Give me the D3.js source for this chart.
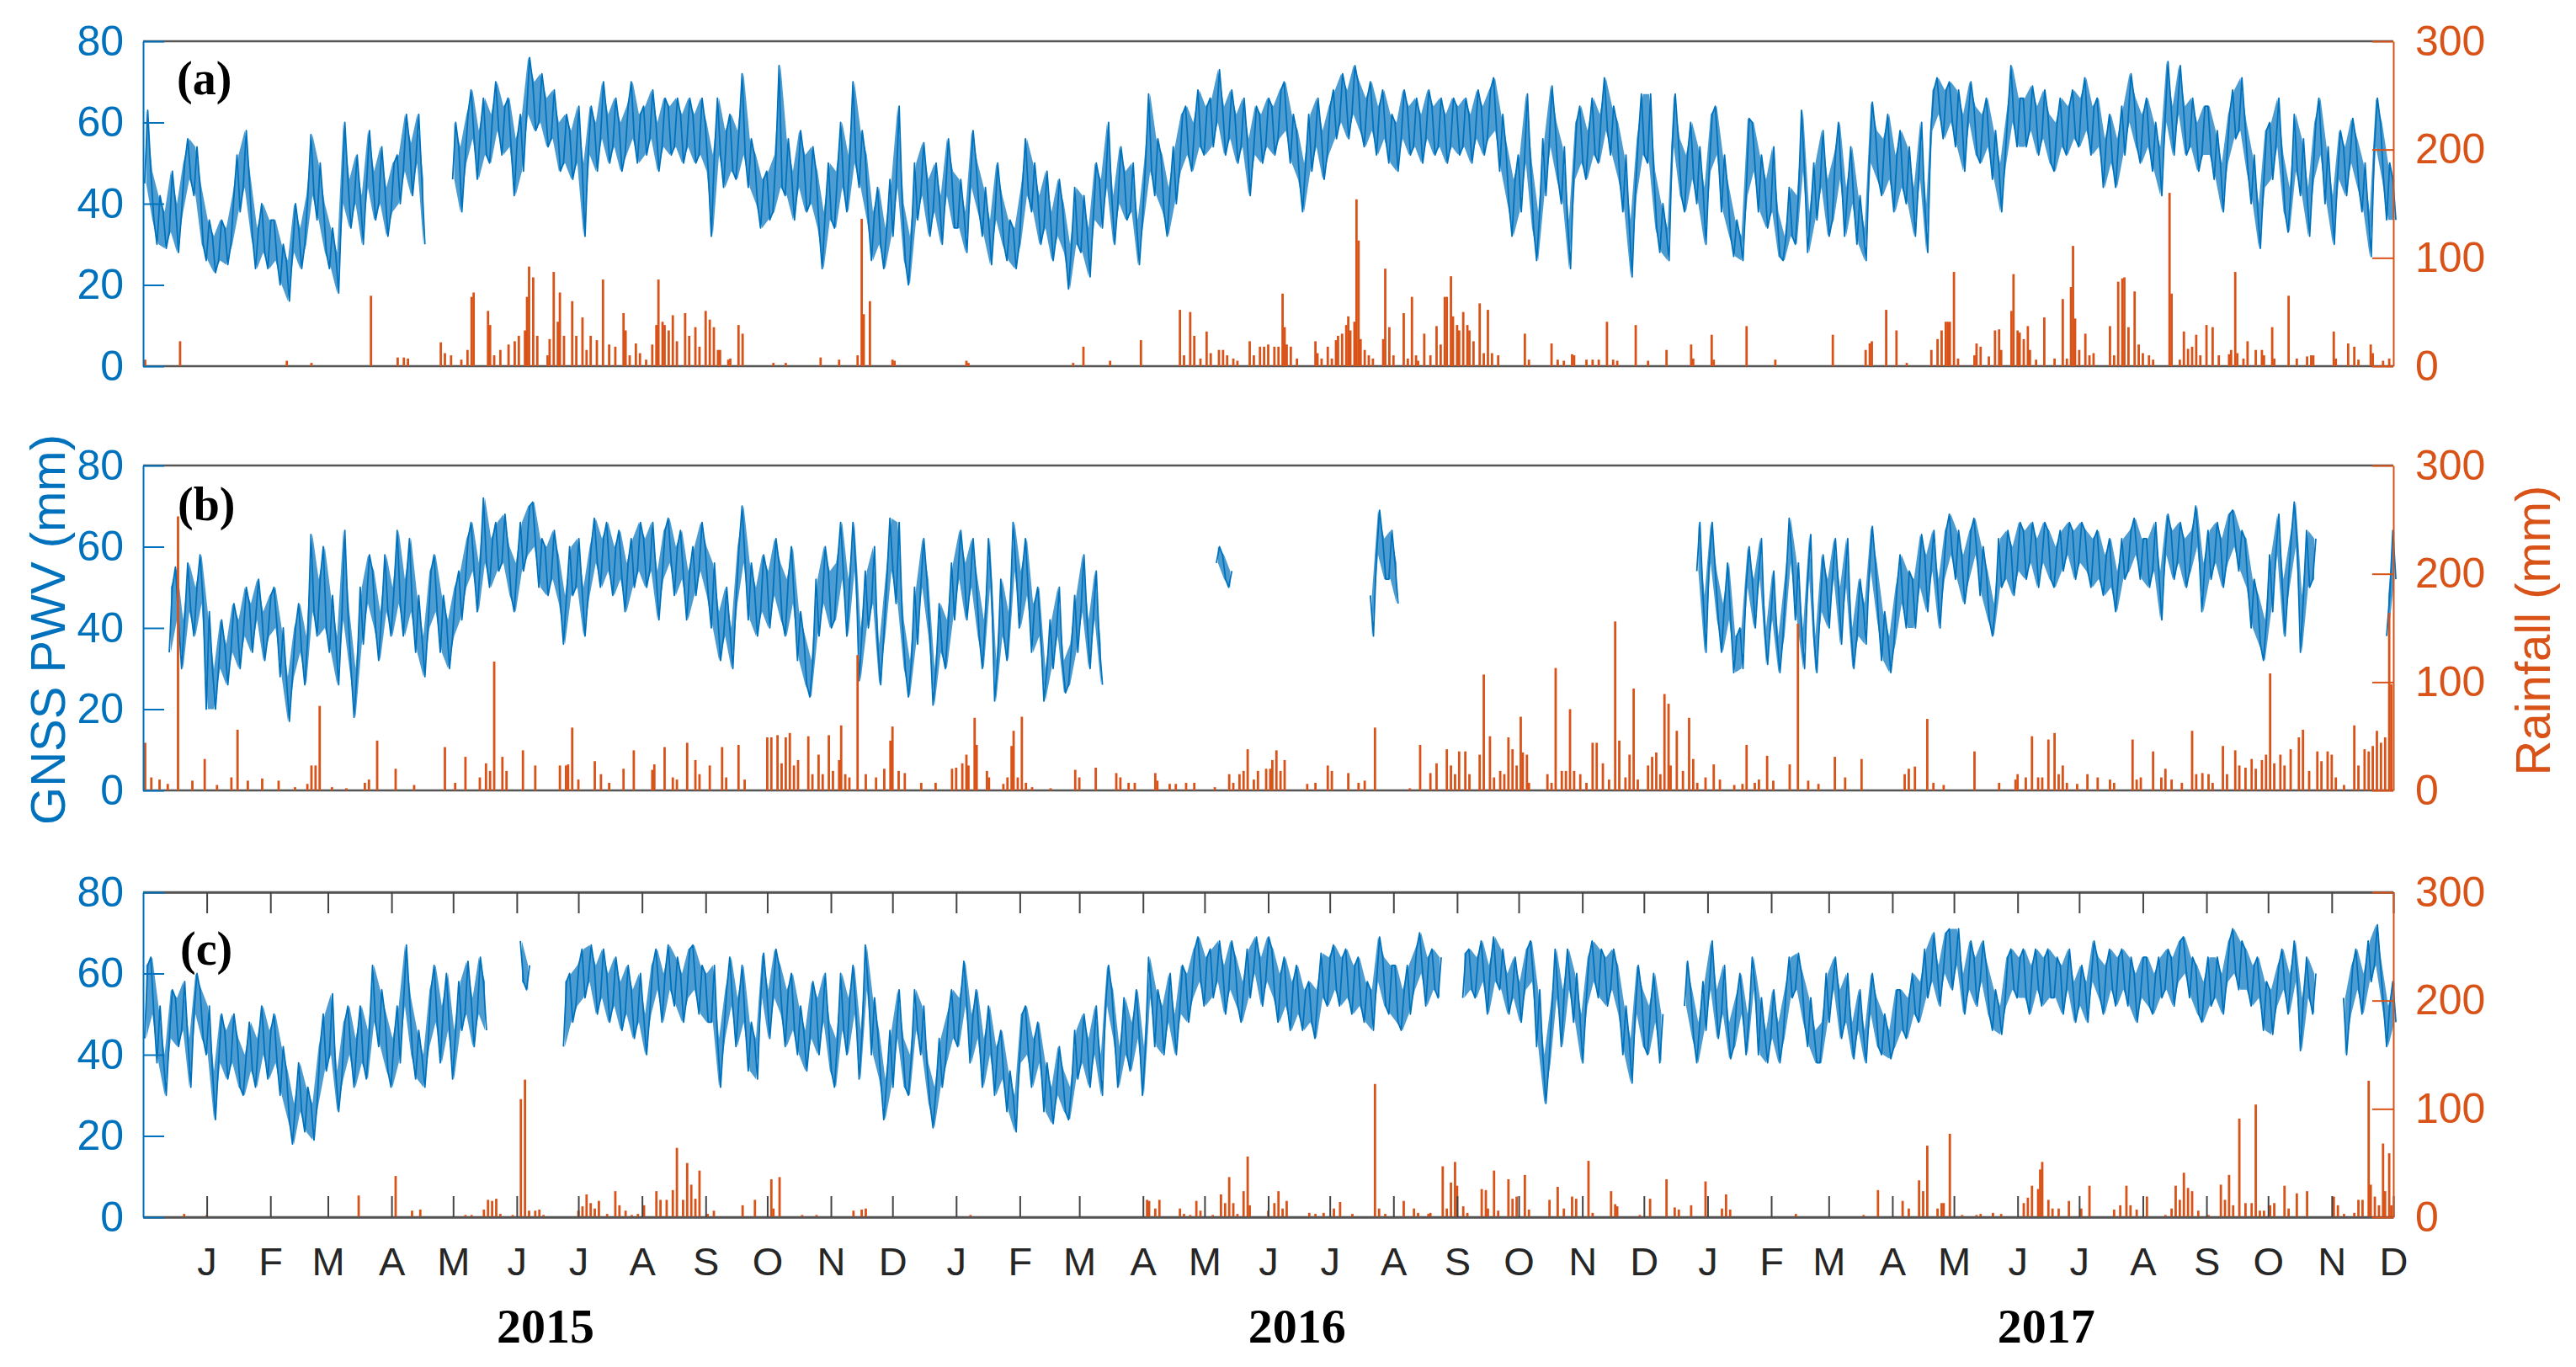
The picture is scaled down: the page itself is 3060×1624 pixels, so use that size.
<!DOCTYPE html>
<html>
<head>
<meta charset="utf-8">
<script src="https://cdn.jsdelivr.net/npm/d3@7"></script>
<style>
  html, body { margin: 0; padding: 0; background: #fff; }
  svg { display: block; }
</style>
</head>
<body>
<svg id="chart" width="3060" height="1624"></svg>
<script>
// GNSS PWV (left axis) and daily rainfall (right axis), three stations

// Time axis: day 0 = 1 Dec 2014, last day 1 Dec 2017
const startDay = Date.UTC(2014, 11, 1);
const endDay = Date.UTC(2017, 11, 1);
const pwvStep = 3;

// Tick labels
const pwvTicks = [0, 20, 40, 60, 80];
const rainTicks = [0, 100, 200, 300];
const monthLabels = ['J', 'F', 'M', 'A', 'M', 'J', 'J', 'A', 'S', 'O', 'N', 'D',
                     'J', 'F', 'M', 'A', 'M', 'J', 'J', 'A', 'S', 'O', 'N', 'D',
                     'J', 'F', 'M', 'A', 'M', 'J', 'J', 'A', 'S', 'O', 'N', 'D'];
const yearLabels = ['2015', '2016', '2017'];
const panelLabels = ['(a)', '(b)', '(c)'];

// PWV (mm), [min, max] per 3-day window, one row per month
const pwvA = [
  [45,63],[36,48],[30,42],[29,38],[33,48],[28,40],[38,50],[46,56],[42,54],[30,44],[26,36], // Dec 14
  [23,32],[26,36],[25,34],[30,42],[38,52],[44,58],[32,46],[24,34],[28,40],[24,36],          // Jan 15
  [26,36],[20,30],[16,26],[28,40],[24,34],[30,42],[42,57],[36,50],[28,40],                  // Feb
  [24,34],[18,28],[40,60],[34,46],[40,52],[30,42],[44,58],[36,48],[40,54],[32,44],[38,50], // Mar
  [40,52],[48,62],[42,55],[50,62],[30,46],null,null,null,null,[46,60],                     // Apr
  [38,54],[50,62],[56,68],[46,58],[52,66],[50,62],[58,70],[52,64],[54,66],[42,56],          // May
  [48,62],[62,76],[58,70],[60,72],[54,66],[56,68],[48,60],[50,62],[46,58],[50,64],          // Jun
  [32,50],[52,64],[48,60],[56,70],[50,62],[54,66],[48,60],[52,64],[56,70],[50,62],          // Jul
  [52,64],[56,68],[48,60],[54,66],[52,64],[54,66],[50,62],[54,66],[50,62],[52,66],[48,60], // Aug
  [32,52],[52,66],[44,58],[48,62],[46,58],[52,72],[44,56],[40,52],[34,46],[36,48],          // Sep
  [38,52],[44,74],[42,56],[36,48],[44,58],[38,52],[40,54],[34,48],[24,38],[36,50],          // Oct
  [34,48],[44,60],[38,52],[50,70],[44,58],[36,52],[26,38],[30,44],[24,34],[32,46],          // Nov
  [44,64],[26,40],[20,32],[36,50],[42,55],[32,46],[38,50],[30,42],[42,56],[34,48],          // Dec 15
  [34,46],[28,38],[44,58],[38,50],[32,44],[25,36],[36,50],[30,42],[26,36],[24,34],[30,44], // Jan 16
  [42,56],[38,50],[30,42],[34,48],[26,38],[32,46],[28,40],[19,30],[30,44],                  // Feb
  [28,42],[22,34],[36,50],[34,46],[44,60],[30,42],[40,54],[36,48],[38,50],[25,36],[36,50], // Mar
  [48,67],[42,56],[38,52],[32,44],[40,54],[48,62],[52,64],[48,60],[54,68],[52,64],          // Apr
  [54,66],[60,73],[52,64],[56,68],[50,62],[54,66],[42,56],[52,64],[50,62],[54,66],          // May
  [52,64],[56,68],[58,70],[50,62],[46,58],[38,50],[48,62],[54,66],[46,58],[52,64],          // Jun
  [56,68],[60,72],[56,68],[62,74],[58,70],[54,66],[58,70],[52,64],[56,68],[50,62],          // Jul
  [48,60],[56,68],[52,64],[54,66],[50,62],[56,68],[52,64],[54,66],[50,62],[54,66],[52,64], // Aug
  [54,66],[50,62],[56,68],[52,64],[56,68],[58,71],[48,62],[40,54],[32,46],[38,52],          // Sep
  [50,67],[34,50],[26,38],[42,56],[54,69],[46,60],[40,54],[24,36],[46,60],[50,64],          // Oct
  [46,58],[52,66],[50,62],[58,71],[52,64],[46,60],[38,52],[22,36],[42,56],[52,67],          // Nov
  [50,67],[34,48],[28,40],[26,34],[54,67],[42,56],[38,52],[46,60],[40,54],[30,44],          // Dec 16
  [48,62],[52,64],[38,52],[32,44],[27,36],[26,32],[42,61],[48,60],[38,52],[34,46],[38,54], // Jan 17
  [27,38],[26,32],[32,44],[30,42],[48,63],[28,38],[36,50],[44,58],[32,46],                  // Feb
  [36,52],[46,60],[32,44],[40,54],[30,42],[26,34],[50,65],[46,58],[42,56],[46,62],          // Mar
  [38,52],[44,58],[40,54],[32,44],[46,60],[28,40],[58,68],[62,71],[56,68],[60,70],          // Apr
  [54,68],[48,62],[60,70],[52,64],[50,62],[54,66],[46,58],[38,50],[50,62],[60,74],[54,66], // May
  [54,66],[58,69],[52,64],[56,68],[50,62],[48,60],[54,66],[52,64],[56,68],[54,66],          // Jun
  [58,71],[52,64],[54,66],[44,56],[50,62],[44,56],[52,64],[60,72],[54,66],[50,62],          // Jul
  [54,66],[48,60],[42,54],[60,75],[52,64],[62,74],[52,64],[54,66],[48,60],[52,64],          // Aug
  [52,64],[46,58],[38,50],[50,62],[56,68],[58,71],[48,60],[40,52],[29,40],[44,58],          // Sep
  [46,60],[54,66],[38,52],[33,44],[48,62],[42,56],[32,44],[46,60],[52,66],[40,54],[30,42], // Oct
  [46,58],[42,54],[50,61],[44,56],[38,50],[27,38],[54,66],[46,60],[36,50],[36,46]           // Nov
];

const pwvB = [
  null,null,null,null,[34,50],[42,55],[30,42],[44,56],[38,50],[46,58],[20,44],             // Dec 14
  [20,30],[30,42],[26,36],[34,46],[30,42],[38,50],[34,46],[42,52],[32,44],[38,48],          // Jan 15
  [40,50],[28,40],[17,28],[28,40],[34,46],[26,38],[44,63],[38,52],[40,60],                  // Feb
  [34,48],[26,38],[42,64],[30,44],[18,30],[36,50],[46,58],[40,54],[32,44],[44,58],[38,50], // Mar
  [46,64],[38,52],[44,62],[34,48],[28,38],[40,54],[44,58],[34,48],[30,42],[38,50],          // Apr
  [42,54],[50,62],[54,66],[44,56],[56,72],[50,62],[54,66],[56,68],[48,60],[44,56],          // May
  [54,66],[58,70],[60,71],[50,62],[48,60],[52,64],[46,58],[36,48],[48,60],[50,62],          // Jun
  [38,50],[48,60],[56,67],[50,62],[54,66],[48,60],[52,64],[44,56],[50,62],[54,66],          // Jul
  [50,62],[54,66],[42,54],[52,64],[56,67],[48,60],[52,64],[42,54],[48,60],[54,66],[48,60], // Aug
  [40,56],[32,44],[38,50],[30,40],[46,60],[56,70],[42,56],[38,50],[44,58],[40,54],          // Sep
  [48,62],[42,56],[38,52],[46,60],[32,44],[26,38],[23,32],[38,52],[46,60],[40,54],          // Oct
  [42,56],[52,66],[38,52],[54,66],[27,40],[40,54],[46,60],[26,36],[38,52],[54,67],          // Nov
  [46,66],[30,42],[23,32],[36,50],[50,62],[38,52],[21,30],[34,46],[30,42],[42,56],          // Dec 15
  [52,64],[42,56],[50,62],[38,52],[30,42],[50,62],[22,32],[38,52],[32,44],[54,66],[40,54], // Jan 16
  [48,62],[34,46],[38,50],[22,30],[30,42],[38,50],[24,32],[26,36],[34,48],                  // Feb
  [44,58],[30,42],[42,54],[26,36],null,null,null,null,null,null,null,                       // Mar
  null,null,null,null,null,null,null,null,null,null,                                        // Apr
  null,[56,60],[52,58],[50,54],null,null,null,null,null,null,                               // May
  null,null,null,null,null,null,null,null,null,null,                                        // Jun
  null,null,null,null,null,null,[38,48],[58,69],[52,62],[52,64],                            // Jul
  [46,56],null,null,null,null,null,null,null,null,null,null,                                // Aug
  null,null,null,null,null,null,null,null,null,null,                                        // Sep
  null,null,null,null,null,null,null,null,null,null,                                        // Oct
  null,null,null,null,null,null,null,null,null,null,                                        // Nov
  null,null,null,null,null,null,null,null,[54,66],[34,48],                                  // Dec 16
  [56,66],[42,54],[34,46],[42,56],[29,38],[30,40],[50,60],[40,52],[52,62],[31,40],[42,54], // Jan 17
  [29,38],[38,52],[56,67],[42,56],[30,40],[52,63],[29,38],[44,58],[40,52],                  // Feb
  [52,62],[36,50],[50,62],[30,40],[38,52],[36,46],[54,65],[42,56],[32,44],[29,38],          // Mar
  [36,50],[46,58],[40,54],[40,52],[50,63],[44,58],[54,64],[40,52],[52,64],[58,68],          // Apr
  [52,64],[46,58],[52,64],[58,67],[48,60],[42,54],[38,46],[50,62],[52,64],[48,60],[54,66], // May
  [52,64],[56,66],[50,62],[56,66],[52,64],[50,60],[54,64],[58,66],[52,64],[56,66],          // Jun
  [54,64],[50,62],[52,64],[48,58],[50,62],[44,54],[52,62],[54,64],[58,67],[52,62],          // Jul
  [50,62],[54,66],[42,54],[58,68],[52,64],[56,66],[50,62],[54,64],[60,70],[44,56],          // Aug
  [52,64],[56,66],[50,62],[56,68],[60,69],[54,64],[50,62],[40,52],[36,48],[32,42],          // Sep
  [44,58],[58,68],[38,52],[50,62],[60,71],[34,48],[50,64],[52,62],null,null,null,           // Oct
  null,null,null,null,null,null,null,null,[38,48],[52,64]                                   // Nov
];

const pwvC = [
  [44,62],[50,64],[38,52],[30,40],[44,56],[42,54],[46,58],[32,44],[50,60],[44,56],[40,52], // Dec 14
  [24,36],[38,50],[34,46],[38,50],[32,44],[30,40],[36,48],[32,44],[40,52],[34,46],          // Jan 15
  [38,50],[30,42],[24,36],[18,28],[26,38],[21,32],[19,28],[28,42],[36,50],                  // Feb
  [40,55],[26,36],[34,48],[40,52],[32,44],[38,52],[34,46],[48,62],[42,56],[36,50],[32,44], // Mar
  [38,52],[52,67],[40,54],[34,46],[32,40],[42,56],[48,62],[38,52],[46,60],[34,46],          // Apr
  [46,58],[50,63],[42,54],[50,64],[46,58],null,null,null,null,null,                         // May
  [58,68],[56,62],null,null,null,null,null,[42,58],[48,60],[52,62],                         // Jun
  [54,66],[58,67],[50,62],[54,66],[48,60],[52,64],[46,58],[50,62],[44,56],[48,60],          // Jul
  [40,50],[50,62],[56,66],[48,60],[56,67],[52,64],[48,60],[54,66],[56,67],[50,62],[48,60], // Aug
  [48,62],[32,44],[44,56],[52,64],[42,54],[48,62],[36,48],[34,44],[54,65],[44,56],          // Sep
  [54,66],[50,62],[42,56],[46,60],[40,52],[36,46],[44,58],[40,54],[48,60],[36,48],          // Oct
  [32,44],[46,60],[40,54],[50,62],[34,46],[56,67],[40,54],[34,46],[24,34],[32,46],          // Nov
  [44,56],[32,44],[30,40],[46,56],[40,52],[28,38],[22,32],[32,44],[38,50],[44,56],          // Dec 15
  [42,54],[52,63],[38,50],[44,56],[32,44],[40,52],[30,42],[34,46],[26,36],[21,30],[38,50], // Jan 16
  [40,52],[32,44],[38,48],[26,38],[23,32],[30,42],[26,36],[24,32],[34,46],                  // Feb
  [38,50],[32,44],[40,52],[30,40],[52,62],[44,56],[32,42],[40,54],[36,48],[44,56],[30,42], // Mar
  [54,64],[42,56],[40,52],[48,60],[40,50],[50,62],[48,60],[54,66],[58,69],[52,64],          // Apr
  [54,66],[58,68],[50,62],[56,68],[52,64],[48,58],[54,66],[60,69],[52,64],[58,69],          // May
  [54,66],[48,60],[52,64],[46,58],[50,62],[46,56],[48,58],[44,56],[54,65],[52,64],          // Jun
  [56,67],[52,64],[54,66],[50,62],[52,64],[48,58],[46,56],[58,69],[52,64],[50,62],          // Jul
  [48,62],[46,56],[50,62],[56,66],[60,70],[52,64],[56,66],[54,64],null,null,null,           // Aug
  [54,65],[56,66],[54,64],[58,68],[50,62],[58,69],[56,66],[50,60],[54,64],[48,58],          // Sep
  [56,66],[58,68],[42,56],[28,40],[38,52],[54,66],[42,56],[56,66],[48,60],[38,50],          // Oct
  [52,64],[58,68],[54,66],[52,64],[56,66],[50,62],[40,52],[33,44],[50,62],[42,56],          // Nov
  [40,52],[48,60],[38,50],null,null,null,[52,63],[44,56],[38,48],[46,58],                   // Dec 16
  [56,68],[44,56],[50,62],[39,48],[42,54],[50,60],[40,50],[56,64],[40,54],[38,46],[44,56], // Jan 17
  [38,48],[44,56],[54,64],[56,65],[48,60],[42,54],[38,46],[38,48],[48,60],                  // Feb
  [56,64],[44,56],[48,60],[39,48],[46,56],[38,46],[50,60],[42,54],[40,50],[39,46],          // Mar
  [42,56],[46,56],[44,54],[50,60],[48,58],[54,66],[58,70],[52,62],[60,70],[56,71],          // Apr
  [62,71],[50,60],[56,68],[52,64],[58,68],[50,62],[46,56],[45,52],[52,64],[56,66],[54,64], // May
  [54,66],[50,62],[56,66],[52,64],[54,66],[54,64],[50,62],[56,66],[48,58],[52,62],          // Jun
  [48,58],[58,68],[54,64],[50,62],[56,66],[52,64],[56,66],[52,64],[48,60],[54,64],          // Jul
  [52,64],[50,60],[54,64],[56,66],[52,64],[58,68],[60,69],[54,64],[50,62],[48,58],          // Aug
  [52,64],[54,64],[50,60],[58,68],[60,71],[56,68],[56,66],[52,62],[54,64],[46,58],          // Sep
  [45,56],[52,62],[56,66],[50,60],[58,68],[41,54],[54,64],[50,60],null,null,null,           // Oct
  null,[40,54],[50,62],[56,66],[50,60],[58,68],[62,72],[52,62],[42,52],[48,58]              // Nov
];

// Daily rainfall (mm): [day since 1 Dec 2014, amount]
const rainA = [
  [1,6],[18,23],[70,5],[82,3],[111,65],[124,8],[127,8],[129,7],[145,22],[147,12],[150,10],[155,6],
  [158,15],[160,64],[161,68],[168,51],[169,38],[171,10],[174,15],[178,20],[181,23],[183,28],[186,33],
  [187,64],[188,92],[190,82],[192,28],[197,10],[198,25],[200,87],[202,41],[203,68],[205,28],[209,60],
  [211,28],[214,45],[216,15],[218,28],[221,24],[224,80],[227,20],[230,18],[234,49],[235,33],[237,10],
  [240,21],[242,12],[245,6],[248,20],[250,38],[251,80],[253,41],[254,38],[256,33],[258,47],[260,23],
  [264,49],[266,28],[269,36],[271,18],[274,51],[276,43],[278,36],[280,15],[281,15],[285,6],[286,7],
  [290,38],[292,30],[307,3],[313,3],[330,8],[339,6],[348,10],[350,136],[351,48],[354,60],[365,6],
  [366,5],[401,5],[402,3],[453,3],[458,18],[471,5],[486,24],[505,52],[507,10],[510,50],[512,28],
  [515,7],[518,32],[520,12],[524,15],[526,15],[528,10],[531,7],[533,5],[539,23],[541,10],[544,18],
  [546,18],[548,20],[551,18],[553,18],[555,67],[556,36],[557,20],[559,18],[562,7],[571,23],[572,12],
  [574,7],[577,18],[579,7],[581,24],[582,28],[584,30],[586,38],[587,46],[588,33],[590,41],[591,154],
  [592,116],[593,25],[595,15],[597,10],[599,7],[604,25],[605,90],[607,36],[609,10],[614,49],[616,7],
  [618,64],[620,10],[621,5],[624,30],[627,10],[630,37],[632,20],[634,64],[635,64],[637,83],[638,46],
  [640,38],[641,33],[643,50],[645,38],[646,33],[648,23],[651,58],[653,12],[655,52],[657,12],[660,10],
  [673,30],[675,6],[686,21],[689,6],[692,5],[696,11],[697,10],[703,6],[706,6],[709,6],[713,41],
  [716,6],[718,5],[727,38],[733,5],[742,15],[754,20],[755,7],[764,29],[765,6],[781,37],[795,6],
  [823,29],[839,15],[841,21],[842,23],[849,52],[854,33],[859,3],[871,15],[874,25],[876,33],[878,41],
  [879,41],[880,41],[882,87],[884,7],[892,10],[893,21],[895,18],[899,9],[902,33],[904,34],[905,15],
  [910,51],[911,85],[913,33],[914,31],[916,25],[918,37],[919,15],[922,6],[926,45],[931,7],[935,62],
  [937,7],[939,73],[940,111],[941,44],[943,15],[946,30],[948,10],[950,12],[958,37],[960,10],[962,78],
  [964,81],[965,82],[967,36],[970,69],[972,20],[974,12],[977,10],[979,6],[987,160],[988,67],[992,6],
  [994,32],[996,16],[998,18],[1000,29],[1002,10],[1005,38],[1008,36],[1011,10],[1016,11],[1017,15],
  [1019,87],[1020,12],[1023,7],[1025,23],[1029,15],[1032,15],[1033,10],[1037,36],[1038,7],[1045,65],
  [1049,7],[1054,9],[1056,10],[1057,10],[1067,32],[1068,7],[1074,21],[1077,18],[1079,6],[1085,20],
  [1086,12],[1091,5],[1094,7]
];

const rainB = [
  [1,44],[4,12],[8,10],[12,6],[17,253],[24,9],[30,29],[36,5],[43,12],[46,56],[51,9],[58,11],[66,9],
  [74,3],[80,6],[82,23],[84,23],[86,78],[92,3],[99,2],[108,7],[110,10],[114,46],[123,20],[132,5],
  [147,40],[152,7],[157,31],[164,12],[167,25],[169,18],[171,119],[175,31],[177,18],[185,37],[191,23],
  [203,23],[206,23],[207,24],[209,58],[212,10],[220,27],[223,15],[227,7],[234,20],[239,37],[248,19],
  [249,24],[254,40],[258,12],[260,10],[265,44],[269,28],[271,15],[276,23],[282,40],[284,12],[290,42],
  [293,10],[304,49],[306,49],[309,51],[311,25],[313,49],[315,53],[317,23],[319,28],[324,50],[326,15],
  [329,33],[331,15],[334,51],[336,18],[339,28],[340,60],[342,15],[344,12],[348,125],[352,15],[357,12],
  [361,20],[364,46],[365,59],[368,18],[371,16],[379,7],[386,7],[394,20],[396,21],[399,25],[401,33],
  [402,23],[405,67],[406,42],[411,18],[412,12],[419,6],[421,12],[423,41],[424,55],[426,12],[428,68],
  [430,7],[433,3],[442,2],[454,19],[456,12],[464,21],[474,16],[476,12],[480,7],[483,7],[493,16],
  [494,9],[500,6],[503,6],[508,7],[512,7],[522,3],[529,15],[531,7],[534,15],[536,18],[538,38],[541,10],
  [543,18],[547,20],[549,20],[550,28],[552,37],[554,18],[556,28],[567,6],[571,7],[577,23],[579,18],
  [587,16],[592,7],[595,9],[600,58],[617,2],[622,42],[627,16],[630,25],[635,38],[637,23],[639,15],
  [641,36],[644,36],[646,15],[651,33],[653,107],[656,50],[658,12],[661,18],[663,15],[665,49],[667,38],
  [669,23],[671,68],[672,35],[674,33],[675,7],[684,15],[686,7],[688,113],[691,18],[693,18],[695,75],
  [697,18],[700,15],[703,7],[706,44],[708,44],[711,25],[714,10],[717,156],[719,46],[722,12],[724,33],
  [726,94],[728,10],[733,23],[735,31],[737,35],[739,15],[741,89],[743,80],[744,23],[747,55],[750,18],
  [753,67],[755,29],[757,7],[761,12],[765,24],[768,10],[775,5],[779,6],[781,42],[785,7],[787,10],
  [791,32],[794,9],[802,24],[806,154],[811,9],[816,6],[824,31],[829,12],[837,29],[858,15],[860,20],
  [863,22],[869,66],[872,7],[877,5],[892,36],[904,7],[912,10],[913,15],[917,12],[920,50],[923,12],
  [925,12],[928,47],[931,53],[933,15],[935,23],[937,7],[942,6],[947,15],[952,12],[958,10],[960,7],
  [969,47],[971,10],[973,12],[979,36],[983,12],[985,20],[988,10],[993,7],[998,55],[1000,15],[1003,16],
  [1006,15],[1008,7],[1013,41],[1015,15],[1019,37],[1021,23],[1024,21],[1027,29],[1029,20],[1032,28],
  [1034,33],[1036,108],[1038,25],[1041,33],[1043,23],[1046,38],[1050,49],[1052,56],[1055,18],[1059,36],
  [1061,27],[1064,36],[1066,33],[1068,12],[1072,5],[1077,60],[1079,23],[1082,38],[1084,36],[1086,41],
  [1088,55],[1090,44],[1092,49],[1094,164],[1095,98]
];

const rainC = [
  [20,3],[31,2],[105,20],[123,38],[131,6],[135,7],[157,2],[160,2],[166,7],[168,16],[170,15],[172,17],
  [174,3],[180,2],[184,109],[186,127],[188,6],[191,6],[193,7],[195,2],[212,6],[214,10],[216,21],
  [218,13],[220,8],[222,15],[226,3],[230,24],[232,11],[235,6],[238,2],[241,3],[244,11],[250,24],
  [252,16],[255,16],[258,25],[260,64],[263,16],[265,50],[267,30],[269,17],[271,43],[275,3],[278,6],
  [292,11],[298,16],[306,35],[307,8],[310,37],[321,2],[328,2],[346,6],[350,7],[352,8],[403,2],
  [489,16],[490,15],[493,8],[495,16],[505,8],[507,3],[510,2],[513,15],[515,6],[521,2],[525,21],
  [527,13],[529,37],[531,13],[533,3],[536,24],[538,56],[539,11],[548,6],[551,13],[553,24],[555,8],
  [557,15],[568,4],[571,3],[575,4],[580,8],[583,14],[589,3],[600,123],[602,8],[605,3],[614,15],
  [619,8],[621,4],[626,3],[627,4],[633,47],[635,8],[637,32],[639,51],[640,29],[643,10],[645,4],
  [652,26],[654,25],[655,8],[658,43],[660,6],[665,35],[667,17],[669,19],[673,39],[675,7],[685,16],
  [689,28],[692,8],[696,19],[698,17],[704,52],[706,4],[715,24],[717,12],[718,10],[729,2],[734,17],
  [742,35],[746,9],[748,7],[754,11],[761,33],[769,8],[771,21],[773,7],[805,3],[838,2],[845,25],
  [857,15],[860,8],[865,34],[867,24],[869,66],[874,8],[876,13],[877,13],[880,77],[886,2],[893,2],
  [895,3],[901,4],[905,3],[916,13],[918,18],[920,29],[923,26],[924,44],[925,51],[928,16],[930,8],
  [933,8],[938,15],[944,8],[948,29],[960,7],[963,11],[966,29],[968,11],[971,7],[976,19],[985,2],
  [988,8],[990,29],[992,16],[994,41],[996,27],[998,24],[1001,6],[1006,2],[1012,30],[1014,16],
  [1016,39],[1018,11],[1021,91],[1024,13],[1027,13],[1029,104],[1031,6],[1033,6],[1036,11],[1038,13],
  [1043,29],[1045,8],[1049,22],[1054,24],[1067,19],[1069,11],[1072,3],[1077,4],[1079,16],[1081,16],
  [1084,126],[1085,30],[1087,19],[1089,11],[1091,68],[1092,24],[1094,59],[1095,11]
];

// Colours and fonts
const blue = '#0072BD';
const orange = '#D95319';
const sans = 'Liberation Sans, Arial, sans-serif';
const serif = 'Liberation Serif, Times New Roman, serif';

// Layout
const left = 170, right = 2843, panelH = 386;
const panels = [
  { pwv: pwvA, rain: rainA, top: 49,   labelDy: 63, labelX: 210 },
  { pwv: pwvB, rain: rainB, top: 553,  labelDy: 65, labelX: 211 },
  { pwv: pwvC, rain: rainC, top: 1060, labelDy: 86, labelX: 214 }
];

const dayToDate = d => new Date(startDay + d * 864e5);

const x = d3.scaleUtc()
    .domain([new Date(startDay), new Date(endDay)])
    .range([left, right]);

const svg = d3.select('#chart');
const monthTicks = d3.utcMonth.range(new Date(Date.UTC(2015, 0, 1)), new Date(endDay + 864e5));

// Walk through each window's [min, max] so the trace keeps its noisy look
function windowTrace(windows) {
    const pts = [];
    windows.forEach((w, i) => {
        if (!w) { pts.push(null); return; }
        const [a, b] = i % 2 ? [w[1], w[0]] : [w[0], w[1]];
        pts.push({ day: i * pwvStep + 0.75, v: a });
        pts.push({ day: i * pwvStep + 2.25, v: b });
    });
    return pts;
}

panels.forEach((p, k) => {
    const bottom = p.top + panelH;
    const yPwv = d3.scaleLinear().domain([0, 80]).range([bottom, p.top]);
    const yRain = d3.scaleLinear().domain([0, 300]).range([bottom, p.top]);
    const g = svg.append('g');

    // top / bottom box lines
    g.append('line')
        .attr('x1', left).attr('x2', right)
        .attr('y1', p.top).attr('y2', p.top)
        .attr('stroke', '#555').attr('stroke-width', 2.5);
    g.append('line')
        .attr('x1', left).attr('x2', right)
        .attr('y1', bottom).attr('y2', bottom)
        .attr('stroke', '#555').attr('stroke-width', 2.5);

    // PWV: light envelope of each 3-day window ...
    const band = d3.area()
        .defined(d => d != null)
        .x((d, i) => x(dayToDate(i * pwvStep + 1.5)))
        .y0(d => yPwv(d[0]))
        .y1(d => yPwv(d[1]));
    g.append('path')
        .datum(p.pwv)
        .attr('d', band)
        .attr('fill', blue)
        .attr('fill-opacity', 0.7);

    // ... and the trace swinging through it
    const line = d3.line()
        .defined(d => d != null)
        .x(d => x(dayToDate(d.day)))
        .y(d => yPwv(d.v));
    g.append('path')
        .datum(windowTrace(p.pwv))
        .attr('d', line)
        .attr('fill', 'none')
        .attr('stroke', blue)
        .attr('stroke-width', 1.8)
        .attr('stroke-linejoin', 'round');

    // rainfall bars
    const barW = 2.8;
    g.selectAll('rect.rain')
        .data(p.rain)
        .join('rect')
        .attr('class', 'rain')
        .attr('x', d => x(dayToDate(d[0])) - barW / 2)
        .attr('y', d => yRain(d[1]))
        .attr('width', barW)
        .attr('height', d => bottom - yRain(d[1]))
        .attr('fill', orange);

    // month ticks only on the lowest panel
    if (k === 2) {
        const xb = g.append('g')
            .attr('transform', `translate(0,${bottom})`)
            .call(d3.axisBottom(x)
                .tickValues(monthTicks)
                .tickFormat((d, i) => monthLabels[i])
                .tickSizeInner(-25)
                .tickSizeOuter(0)
                .tickPadding(36));
        xb.select('.domain').attr('stroke', '#555').attr('stroke-width', 2.5);
        xb.selectAll('.tick line').attr('stroke', '#444').attr('stroke-width', 2);
        xb.selectAll('.tick text')
            .attr('fill', '#262626')
            .style('font-family', sans)
            .style('font-size', '47px');

        const xt = g.append('g')
            .attr('transform', `translate(0,${p.top})`)
            .call(d3.axisTop(x)
                .tickValues(monthTicks)
                .tickFormat('')
                .tickSizeInner(-25)
                .tickSizeOuter(0));
        xt.select('.domain').attr('stroke', '#555').attr('stroke-width', 2.5);
        xt.selectAll('.tick line').attr('stroke', '#444').attr('stroke-width', 2);
    }

    // left axis (PWV)
    const ya = g.append('g')
        .attr('transform', `translate(${left},0)`)
        .call(d3.axisLeft(yPwv)
            .tickValues(pwvTicks)
            .tickSizeInner(-25)
            .tickSizeOuter(0)
            .tickPadding(23));
    ya.select('.domain').attr('stroke', blue).attr('stroke-width', 2);
    ya.selectAll('.tick line').attr('stroke', blue).attr('stroke-width', 2);
    ya.selectAll('.tick text')
        .attr('fill', blue)
        .style('font-family', sans)
        .style('font-size', '50px');

    // right axis (rainfall)
    const yb = g.append('g')
        .attr('transform', `translate(${right},0)`)
        .call(d3.axisRight(yRain)
            .tickValues(rainTicks)
            .tickSizeInner(-25)
            .tickSizeOuter(0)
            .tickPadding(26));
    yb.select('.domain').attr('stroke', orange).attr('stroke-width', 2);
    yb.selectAll('.tick line').attr('stroke', orange).attr('stroke-width', 2);
    yb.selectAll('.tick text')
        .attr('fill', orange)
        .style('font-family', sans)
        .style('font-size', '50px');

    // panel label
    g.append('text')
        .attr('x', p.labelX)
        .attr('y', p.top + p.labelDy)
        .style('font-family', serif)
        .style('font-weight', 'bold')
        .style('font-size', '56px')
        .attr('fill', '#000')
        .text(panelLabels[k]);
});

// year labels under the month letters
svg.selectAll('text.year')
    .data(yearLabels)
    .join('text')
    .attr('class', 'year')
    .attr('x', d => x(new Date(Date.UTC(+d, 5, 15))))
    .attr('y', 1595)
    .attr('text-anchor', 'middle')
    .style('font-family', serif)
    .style('font-weight', 'bold')
    .style('font-size', '58px')
    .attr('fill', '#000')
    .text(d => d);

// axis titles
svg.append('text')
    .attr('transform', 'translate(56,748) rotate(-90)')
    .attr('text-anchor', 'middle')
    .attr('dominant-baseline', 'central')
    .style('font-family', sans)
    .style('font-size', '58px')
    .attr('fill', blue)
    .text('GNSS PWV (mm)');

svg.append('text')
    .attr('transform', 'translate(3008,749) rotate(-90)')
    .attr('text-anchor', 'middle')
    .attr('dominant-baseline', 'central')
    .style('font-family', sans)
    .style('font-size', '58px')
    .attr('fill', orange)
    .text('Rainfall (mm)');
</script>
</body>
</html>
